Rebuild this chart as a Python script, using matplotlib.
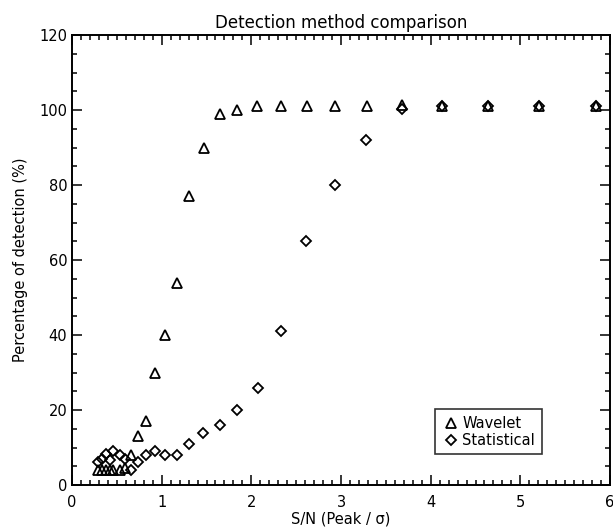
import matplotlib
matplotlib.use("Agg")
import matplotlib.pyplot as plt
from matplotlib.ticker import MultipleLocator

# Wavelet detection (triangles)
wav_x = [0.29, 0.33, 0.38, 0.42, 0.46, 0.53, 0.59, 0.66, 0.74, 0.83, 0.93, 1.04,
         1.17, 1.31, 1.47, 1.65, 1.84, 2.06, 2.33, 2.62, 2.93, 3.29, 3.68, 4.13,
         4.64, 5.21, 5.84]
wav_y = [4, 4, 4, 4, 4, 4, 4.5, 8, 13, 17, 30, 40,
         54, 77, 90, 99, 100, 101, 101, 101, 101, 101, 101.3, 101,
         101, 101, 101]

# Statistical detection (diamonds)
stat_x = [0.29, 0.33, 0.38, 0.42, 0.46, 0.53, 0.59, 0.66, 0.74, 0.82, 0.93, 1.04,
          1.17, 1.31, 1.46, 1.65, 1.84, 2.07, 2.33, 2.61, 2.93, 3.28, 3.68, 4.13,
          4.64, 5.21, 5.84]
stat_y = [6.2, 7, 8.3, 6.8, 9.1, 8, 7, 4, 6.2, 8, 9.1, 8,
          8, 11, 14, 16, 20, 26, 41, 65, 80, 92, 100.3, 101,
          101, 101, 101]

fig = plt.figure(figsize=(6.13, 5.31), dpi=100)
ax = fig.add_axes([72 / 613, 46 / 531, 538 / 613, 450 / 531])

ax.plot(wav_x, wav_y, linestyle="none", marker="^", markersize=7,
        markerfacecolor="none", markeredgecolor="black", markeredgewidth=1.3,
        label="Wavelet")
ax.plot(stat_x, stat_y, linestyle="none", marker="D", markersize=5.5,
        markerfacecolor="none", markeredgecolor="black", markeredgewidth=1.3,
        label="Statistical")

ax.set_xlim(0, 6)
ax.set_ylim(0, 120)
ax.xaxis.set_major_locator(MultipleLocator(1))
ax.xaxis.set_minor_locator(MultipleLocator(0.1))
ax.yaxis.set_major_locator(MultipleLocator(20))
ax.yaxis.set_minor_locator(MultipleLocator(5))
ax.tick_params(which="both", direction="in", top=True, right=True,
               labelsize=10.5, width=1.1, colors="black")
ax.tick_params(which="major", length=7.5)
ax.tick_params(which="minor", length=3.5)
ax.tick_params(axis="x", pad=7)
for s in ax.spines.values():
    s.set_linewidth(1.4)

ax.set_title("Detection method comparison", fontsize=12, pad=5)
ax.set_xlabel("S/N (Peak / σ)", fontsize=10.5, labelpad=1)
ax.set_ylabel("Percentage of detection (%)", fontsize=10.5, labelpad=8)

leg = ax.legend(loc="lower right", bbox_to_anchor=(0.873, 0.068), frameon=True,
                fancybox=False, edgecolor="black", fontsize=10.5,
                handletextpad=0.2, handlelength=1.2, borderpad=0.45,
                labelspacing=0.15, borderaxespad=0)
leg.get_frame().set_linewidth(1.2)

fig.savefig("out.png", dpi=100)
